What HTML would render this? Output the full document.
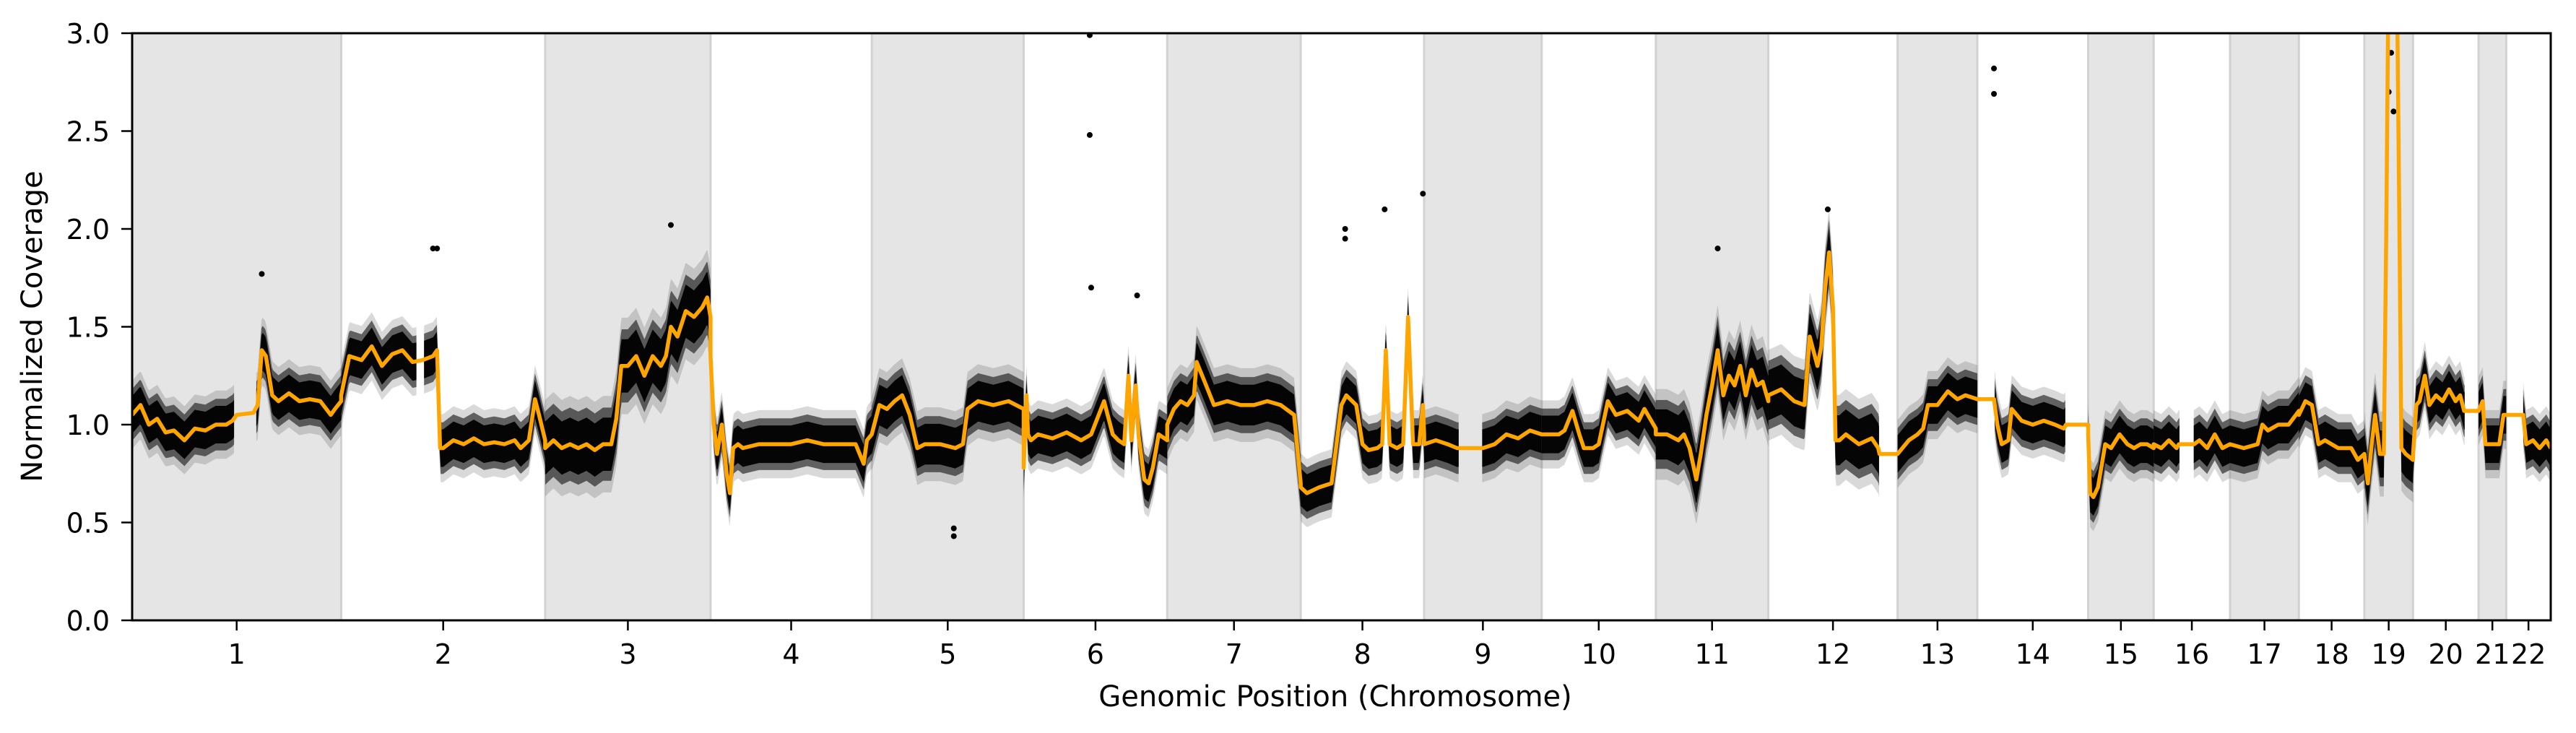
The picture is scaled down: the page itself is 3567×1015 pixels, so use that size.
<!DOCTYPE html>
<html><head><meta charset="utf-8"><style>
html,body{margin:0;padding:0;background:#fff;}
svg{display:block;font-family:"DejaVu Sans","Liberation Sans",sans-serif;}
</style></head><body>
<svg id="chart" width="3567" height="1015" viewBox="0 0 3567 1015">
<defs><clipPath id="plotclip"><rect x="183" y="46" width="3349" height="813"/></clipPath></defs>
<g id="shading"></g>
<g id="bands" clip-path="url(#plotclip)"></g>
<g id="outliers" clip-path="url(#plotclip)"></g>
<g id="trend" clip-path="url(#plotclip)"></g>
<g id="axes"></g>
<text x="1849" y="978" text-anchor="middle" font-size="40">Genomic Position (Chromosome)</text>
<text x="0" y="0" transform="translate(58,452) rotate(-90)" text-anchor="middle" font-size="40">Normalized Coverage</text>
</svg>
<script>
const chromNames = ['1','2','3','4','5','6','7','8','9','10','11','12','13','14','15','16','17','18','19','20','21','22'];
const chromLen = [249,243,197,192,181,171,159,147,140,136,134,154,95,132,78,91,82,78,58,78,33,53];
const chromSpread = [0.12,0.12,0.17,0.12,0.13,0.12,0.13,0.12,0.12,0.12,0.16,0.16,0.12,0.12,0.12,0.12,0.12,0.12,0.15,0.12,0.12,0.12];

const chr1Pos = [0,.04,.08,.12,.16,.2,.25,.3,.35,.4,.45,.48,.5,.58,.6,.62,.64,.67,.7,.75,.8,.85,.9,.95,.97,1];
const chr1Val = [1.05,1.1,1.0,1.03,0.96,0.97,0.92,0.98,0.97,1.0,1.0,1.02,1.05,1.06,1.1,1.38,1.35,1.15,1.12,1.16,1.12,1.13,1.12,1.05,1.08,1.12];
const chr2Pos = [0,.04,.1,.15,.2,.25,.3,.35,.4,.45,.47,.485,.5,.55,.6,.65,.7,.75,.8,.85,.88,.92,.95,.97,1];
const chr2Val = [1.15,1.35,1.33,1.4,1.3,1.36,1.38,1.32,1.33,1.35,1.38,0.88,0.88,0.92,0.9,0.93,0.9,0.91,0.9,0.92,0.88,0.92,1.13,1.05,0.92];
const chr3Pos = [0,.05,.1,.15,.2,.25,.3,.35,.4,.43,.46,.5,.55,.6,.65,.7,.73,.76,.8,.85,.9,.95,.98,1];
const chr3Val = [0.88,0.92,0.88,0.9,0.88,0.9,0.87,0.9,0.9,1.03,1.3,1.3,1.35,1.25,1.35,1.3,1.35,1.5,1.45,1.58,1.55,1.6,1.65,1.55];
const chr4Pos = [0,.02,.04,.07,.1,.12,.14,.17,.2,.3,.4,.5,.6,.7,.8,.9,.95,.97,1];
const chr4Val = [1.35,1.0,0.85,1.0,0.75,0.65,0.88,0.9,0.88,0.9,0.9,0.9,0.92,0.9,0.9,0.9,0.8,0.92,0.95];
const chr5Pos = [0,.05,.1,.15,.2,.25,.3,.35,.45,.55,.6,.63,.7,.8,.9,1];
const chr5Val = [0.95,1.1,1.08,1.12,1.15,1.05,0.88,0.9,0.9,0.88,0.9,1.08,1.12,1.1,1.12,1.08];
const chr6Pos = [0,.02,.03,.05,.1,.2,.3,.4,.47,.56,.62,.66,.7,.73,.75,.78,.8,.84,.87,.9,.94,1];
const chr6Val = [0.78,1.15,0.95,0.92,0.95,0.93,0.96,0.92,0.95,1.12,0.95,0.92,0.9,1.25,0.92,1.2,0.95,0.72,0.7,0.78,0.95,0.92];
const chr7Pos = [0,.05,.1,.15,.2,.22,.28,.35,.45,.55,.65,.75,.85,.95,1];
const chr7Val = [1.0,1.08,1.12,1.1,1.15,1.32,1.22,1.1,1.12,1.1,1.1,1.12,1.1,1.05,0.7];
const chr8Pos = [0,.05,.15,.25,.3,.33,.37,.45,.5,.55,.62,.66,.69,.72,.78,.83,.87,.91,.96,.99,1];
const chr8Val = [0.68,0.65,0.68,0.7,0.95,1.1,1.15,1.1,0.9,0.87,0.88,0.9,1.38,0.9,0.88,0.9,1.55,0.9,0.9,1.1,0.95];
const chr9Pos = [0,.1,.2,.28,.5,.6,.7,.8,.9,1];
const chr9Val = [0.9,0.92,0.9,0.88,0.88,0.9,0.95,0.93,0.97,0.95];
const chr10Pos = [0,.15,.2,.27,.33,.37,.45,.5,.58,.65,.75,.85,.9,1];
const chr10Val = [0.95,0.95,0.97,1.07,0.95,0.88,0.88,0.9,1.12,1.05,1.07,1.02,1.08,0.98];
const chr11Pos = [0,.1,.2,.25,.3,.36,.4,.45,.5,.55,.6,.65,.7,.75,.8,.85,.9,.95,1];
const chr11Val = [0.95,0.95,0.92,0.95,0.88,0.72,0.85,1.05,1.2,1.38,1.15,1.25,1.2,1.3,1.15,1.28,1.2,1.22,1.12];
const chr12Pos = [0,.1,.2,.28,.32,.38,.41,.44,.47,.5,.52,.55,.6,.7,.8,.85,.86,1];
const chr12Val = [1.15,1.18,1.12,1.1,1.45,1.3,1.4,1.7,1.88,1.6,0.92,0.92,0.95,0.9,0.93,0.88,0.85,0.85];
const chr13Pos = [0,.14,.25,.32,.38,.5,.63,.75,.85,1];
const chr13Val = [0.85,0.92,0.95,0.98,1.1,1.1,1.17,1.13,1.15,1.13];
const chr14Pos = [0,.15,.18,.22,.28,.31,.4,.5,.6,.7,.78,.8,1];
const chr14Val = [1.13,1.13,1.0,0.9,0.92,1.08,1.02,1.0,1.02,1.0,0.98,1.0,1.0];
const chr15Pos = [0,.03,.08,.15,.26,.35,.48,.6,.7,.8,.9,1];
const chr15Val = [0.95,0.65,0.63,0.68,0.9,0.88,0.95,0.9,0.88,0.9,0.9,0.88];
const chr16Pos = [0,.1,.2,.3,.33,.53,.6,.7,.8,.9,1];
const chr16Val = [0.9,0.88,0.92,0.88,0.9,0.9,0.92,0.88,0.95,0.88,0.9];
const chr17Pos = [0,.2,.4,.47,.55,.7,.85,1];
const chr17Val = [0.9,0.88,0.9,1.0,0.97,1.0,1.0,1.07];
const chr18Pos = [0,.1,.2,.3,.4,.5,.6,.7,.8,.9,1];
const chr18Val = [1.05,1.12,1.1,0.9,0.92,0.9,0.88,0.88,0.88,0.82,0.85];
const chr19Pos = [0,.07,.15,.22,.32,.4,.45,.5,.58,.66,.72,.76,.85,1];
const chr19Val = [0.85,0.7,0.9,1.05,0.85,0.85,2.0,3.4,3.6,3.5,2.0,0.88,0.85,0.82];
const chr20Pos = [0,.05,.1,.18,.25,.35,.45,.55,.65,.72,.78,1];
const chr20Val = [0.85,1.1,1.12,1.25,1.1,1.15,1.12,1.18,1.12,1.15,1.07,1.07];
const chr21Pos = [0,.15,.25,.5,.75,.9,1];
const chr21Val = [1.07,1.12,0.9,0.9,0.9,1.05,1.05];
const chr22Pos = [0,.38,.45,.6,.75,.9,1];
const chr22Val = [1.05,1.05,0.9,0.92,0.88,0.92,0.88];

const gapChr = [0,1,8,11,13,13,15,19,21];
const gapStart = [.49,.37,.3,.86,0,.8,.34,.79,0];
const gapEnd = [.59,.40,.49,1.01,.15,1.01,.52,1.01,.38];

const outChr = [0,1,1,2,4,4,5,5,5,5,7,7,7,7,10,11,13,13,18,18,18];
const outPos = [.62,.45,.47,.76,.54,.54,.46,.46,.47,.79,.36,.36,.68,.99,.55,.46,.15,.15,.5,.55,.6];
const outVal = [1.77,1.9,1.9,2.02,0.43,0.47,2.48,2.99,1.7,1.66,2.0,1.95,2.1,2.18,1.9,2.1,2.82,2.69,2.7,2.9,2.6];

const yTicks = [0,0.5,1.0,1.5,2.0,2.5,3.0];
const yTickLabels = ['0.0','0.5','1.0','1.5','2.0','2.5','3.0'];

const linePos = [chr1Pos,chr2Pos,chr3Pos,chr4Pos,chr5Pos,chr6Pos,chr7Pos,chr8Pos,chr9Pos,chr10Pos,chr11Pos,chr12Pos,chr13Pos,chr14Pos,chr15Pos,chr16Pos,chr17Pos,chr18Pos,chr19Pos,chr20Pos,chr21Pos,chr22Pos];
const lineVal = [chr1Val,chr2Val,chr3Val,chr4Val,chr5Val,chr6Val,chr7Val,chr8Val,chr9Val,chr10Val,chr11Val,chr12Val,chr13Val,chr14Val,chr15Val,chr16Val,chr17Val,chr18Val,chr19Val,chr20Val,chr21Val,chr22Val];

const NS = 'http://www.w3.org/2000/svg';
const PL = 183, PR = 3532, PT = 46, PB = 859;
const total = chromLen.reduce((a,b)=>a+b,0);
const cumStart = [];
let acc = 0;
for (const L of chromLen) { cumStart.push(acc); acc += L; }
function xOf(c, f) { return PL + (cumStart[c] + f*chromLen[c]) / total * (PR-PL); }
function yOf(v) { return PB - v/3 * (PB-PT); }
function mk(tag, attrs, parent) { const e = document.createElementNS(NS, tag); for (const k in attrs) e.setAttribute(k, attrs[k]); parent.appendChild(e); return e; }
function interp(c, f) {
  const p = linePos[c], v = lineVal[c];
  for (let i=1;i<p.length;i++) if (f <= p[i]) { const t=(f-p[i-1])/((p[i]-p[i-1])||1); return v[i-1]+t*(v[i]-v[i-1]); }
  return v[v.length-1];
}
function inGap(c, f) { for (let i=0;i<gapChr.length;i++) if (gapChr[i]===c && f>=gapStart[i] && f<=gapEnd[i]) return true; return false; }

const sh = document.getElementById('shading');
for (let c=0;c<chromNames.length;c+=2) {
  const x0 = xOf(c,0), x1 = Math.min(xOf(c,1), PR);
  const r = mk('rect', {x:x0, y:PT, width:x1-x0, height:PB-PT, fill:'#e5e5e5'}, sh);
  
  
  if (c>0) mk('line', {x1:x0, x2:x0, y1:PT, y2:PB, stroke:'#d2d2d2', 'stroke-width':3}, sh);
  if (x1 < PR-2) mk('line', {x1:x1, x2:x1, y1:PT, y2:PB, stroke:'#d2d2d2', 'stroke-width':3}, sh);
}

const bands = document.getElementById('bands');
const layers = [[1.45,'#000',0.15],[1.1,'#111',0.6],[0.8,'#000',0.95]];
for (const [k,col,op] of layers) {
  for (let c=0;c<chromNames.length;c++) {
    const N = 160; let seg = [];
    const flush = () => {
      if (seg.length>1) {
        const s = chromSpread[c]*k;
        const up = seg.map(f=>xOf(c,f).toFixed(1)+','+yOf(interp(c,f)+s).toFixed(1));
        const lo = seg.slice().reverse().map(f=>xOf(c,f).toFixed(1)+','+yOf(interp(c,f)-s).toFixed(1));
        const pg = mk('polygon', {points: up.concat(lo).join(' '), fill: col, 'fill-opacity': op}, bands);
        
        
      }
      seg = [];
    };
    for (let i=0;i<=N;i++) { const f=i/N; if (inGap(c,f)) flush(); else seg.push(f); }
    flush();
  }
}

const og = document.getElementById('outliers');
for (let i=0;i<outChr.length;i++) {
  const d = mk('circle', {cx:xOf(outChr[i],outPos[i]), cy:yOf(outVal[i]), r:4, fill:'#000'}, og);
  
  
}

const pts = [];
for (let c=0;c<chromNames.length;c++) for (let i=0;i<linePos[c].length;i++) pts.push(xOf(c,linePos[c][i]).toFixed(1)+','+yOf(lineVal[c][i]).toFixed(1));
const tl = mk('polyline', {points: pts.join(' '), fill:'none', stroke:'#ffa500', 'stroke-width':5.5, 'stroke-linejoin':'round'}, document.getElementById('trend'));



const ax = document.getElementById('axes');
for (let i=0;i<yTicks.length;i++) {
  const y = yOf(yTicks[i]);
  mk('line', {x1:168, x2:PL, y1:y, y2:y, stroke:'#000', 'stroke-width':2.5}, ax);
  const t = mk('text', {x:152, y:y+14, 'text-anchor':'end', 'font-size':38}, ax);
  t.textContent = yTickLabels[i];
  
  
}
for (let c=0;c<chromNames.length;c++) {
  const x = xOf(c,0.5);
  mk('line', {x1:x, x2:x, y1:PB, y2:PB+14, stroke:'#000', 'stroke-width':2.5}, ax);
  const t = mk('text', {x:x, y:919, 'text-anchor':'middle', 'font-size':38}, ax);
  t.textContent = chromNames[c];
  
  
}
const fr = mk('rect', {x:PL, y:PT, width:PR-PL, height:PB-PT, fill:'none', stroke:'#000', 'stroke-width':3}, ax);


</script>
</body></html>
